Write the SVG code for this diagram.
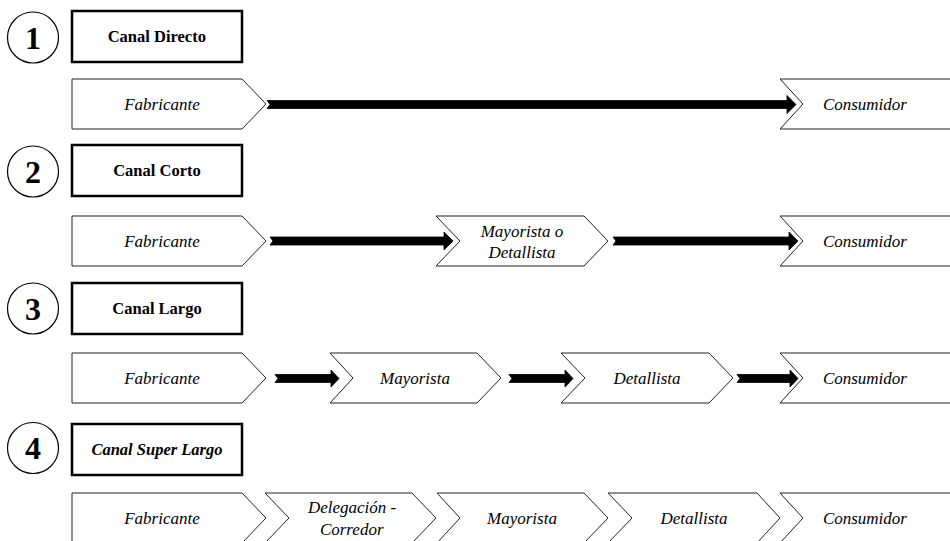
<svg xmlns="http://www.w3.org/2000/svg" width="950" height="541" viewBox="0 0 950 541">
<defs>
<style>
.circ{fill:#fff;stroke:#000;stroke-width:1.2}
.box{fill:#fff;stroke:#000;stroke-width:2.5}
.chev{fill:#fff;stroke:#222;stroke-width:1}
.arr{fill:#000;stroke:#000;stroke-width:0.8}
</style>
</defs>
<rect x="0" y="0" width="950" height="541" fill="#fff"/>

<!-- Row 1 -->
<g id="h1">
<circle class="circ" cx="33" cy="37.5" r="25.5"/>
<text x="25" y="48.5" font-family="Liberation Serif" font-size="32" font-weight="bold">1</text>
<rect class="box" x="72" y="11" width="170" height="51"/>
<text x="107.7" y="42" font-family="Liberation Serif" font-size="16.5" font-weight="bold">Canal Directo</text>
</g>
<g id="r1-fabricante">
<polygon class="chev" points="72,79 242,79 266,104 242,129 72,129"/>
<text x="124.2" y="110" font-family="Liberation Serif" font-size="17" font-style="italic">Fabricante</text>
</g>
<g id="r1-consumidor">
<polygon class="chev" points="780,79 955,79 955,129 780,129 803,104"/>
<text x="822.9" y="110" font-family="Liberation Serif" font-size="17" font-style="italic">Consumidor</text>
</g>

<!-- Row 2 -->
<g id="h2">
<circle class="circ" cx="33" cy="171.5" r="25.5"/>
<text x="25" y="182.5" font-family="Liberation Serif" font-size="32" font-weight="bold">2</text>
<rect class="box" x="72" y="145" width="170" height="51"/>
<text x="113.2" y="176" font-family="Liberation Serif" font-size="16.5" font-weight="bold">Canal Corto</text>
</g>
<g id="r2-fabricante">
<polygon class="chev" points="72,216 242,216 266,241 242,266 72,266"/>
<text x="124.2" y="247" font-family="Liberation Serif" font-size="17" font-style="italic">Fabricante</text>
</g>
<g id="r2-mayorista-detallista">
<polygon class="chev" points="436,216 584,216 608,241 584,266 436,266 460,241"/>
<text x="480.7" y="237" font-family="Liberation Serif" font-size="17" font-style="italic">Mayorista o</text>
<text x="488.5" y="258" font-family="Liberation Serif" font-size="17" font-style="italic">Detallista</text>
</g>
<g id="r2-consumidor">
<polygon class="chev" points="780,216 955,216 955,266 780,266 803,241"/>
<text x="822.9" y="247" font-family="Liberation Serif" font-size="17" font-style="italic">Consumidor</text>
</g>

<!-- Row 3 -->
<g id="h3">
<circle class="circ" cx="33" cy="308.5" r="25.5"/>
<text x="25" y="319.5" font-family="Liberation Serif" font-size="32" font-weight="bold">3</text>
<rect class="box" x="72" y="283" width="170" height="51"/>
<text x="112.3" y="314" font-family="Liberation Serif" font-size="16.5" font-weight="bold">Canal Largo</text>
</g>
<g id="r3-fabricante">
<polygon class="chev" points="72,353 242,353 266,378 242,403 72,403"/>
<text x="124.2" y="384" font-family="Liberation Serif" font-size="17" font-style="italic">Fabricante</text>
</g>
<g id="r3-mayorista">
<polygon class="chev" points="330,353 477,353 501,378 477,403 330,403 353,378"/>
<text x="380" y="384" font-family="Liberation Serif" font-size="17" font-style="italic">Mayorista</text>
</g>
<g id="r3-detallista">
<polygon class="chev" points="561,353 709,353 733,378 709,403 561,403 585,378"/>
<text x="613.5" y="384" font-family="Liberation Serif" font-size="17" font-style="italic">Detallista</text>
</g>
<g id="r3-consumidor">
<polygon class="chev" points="780,353 955,353 955,403 780,403 803,378"/>
<text x="822.9" y="384" font-family="Liberation Serif" font-size="17" font-style="italic">Consumidor</text>
</g>

<!-- Row 4 -->
<g id="h4">
<circle class="circ" cx="33" cy="448" r="25.5"/>
<text x="25" y="459" font-family="Liberation Serif" font-size="32" font-weight="bold">4</text>
<rect class="box" x="72" y="424" width="170" height="51"/>
<text x="91.4" y="455" font-family="Liberation Serif" font-size="16.5" font-weight="bold" font-style="italic">Canal Super Largo</text>
</g>
<g id="r4-fabricante">
<polygon class="chev" points="72,493 242,493 266,518 242,543 72,543"/>
<text x="124.2" y="524" font-family="Liberation Serif" font-size="17" font-style="italic">Fabricante</text>
</g>
<g id="r4-delegacion">
<polygon class="chev" points="265,493 412,493 436,518 412,543 265,543 289,518"/>
<text x="307.9" y="513" font-family="Liberation Serif" font-size="17" font-style="italic">Delegación -</text>
<text x="319.9" y="535" font-family="Liberation Serif" font-size="17" font-style="italic">Corredor</text>
</g>
<g id="r4-mayorista">
<polygon class="chev" points="437,493 584,493 608,518 584,543 437,543 460,518"/>
<text x="487" y="524" font-family="Liberation Serif" font-size="17" font-style="italic">Mayorista</text>
</g>
<g id="r4-detallista">
<polygon class="chev" points="608,493 757,493 780,518 757,543 608,543 632,518"/>
<text x="660.5" y="524" font-family="Liberation Serif" font-size="17" font-style="italic">Detallista</text>
</g>
<g id="r4-consumidor">
<polygon class="chev" points="780,493 955,493 955,543 780,543 803,518"/>
<text x="822.9" y="524" font-family="Liberation Serif" font-size="17" font-style="italic">Consumidor</text>
</g>

<!-- Connectors -->
<g id="connectors">
<path class="arr" d="M267,100.5 L787,100.5 L787,95.5 L796,104.5 L787,113.5 L787,108.5 L267,108.5 L270,104.5 Z"/>
<path class="arr" d="M270,237 L444,237 L444,232 L453,241 L444,250 L444,245 L270,245 L273,241 Z"/>
<path class="arr" d="M613,237 L789,237 L789,232 L798,241 L789,250 L789,245 L613,245 L616,241 Z"/>
<path class="arr" d="M275,374.5 L331,374.5 L331,370 L339,378.5 L331,387 L331,382.5 L275,382.5 L278,378.5 Z"/>
<path class="arr" d="M509,374.5 L565,374.5 L565,370 L573,378.5 L565,387 L565,382.5 L509,382.5 L512,378.5 Z"/>
<path class="arr" d="M737,374.5 L790,374.5 L790,370 L798,378.5 L790,387 L790,382.5 L737,382.5 L740,378.5 Z"/>
</g>
</svg>
